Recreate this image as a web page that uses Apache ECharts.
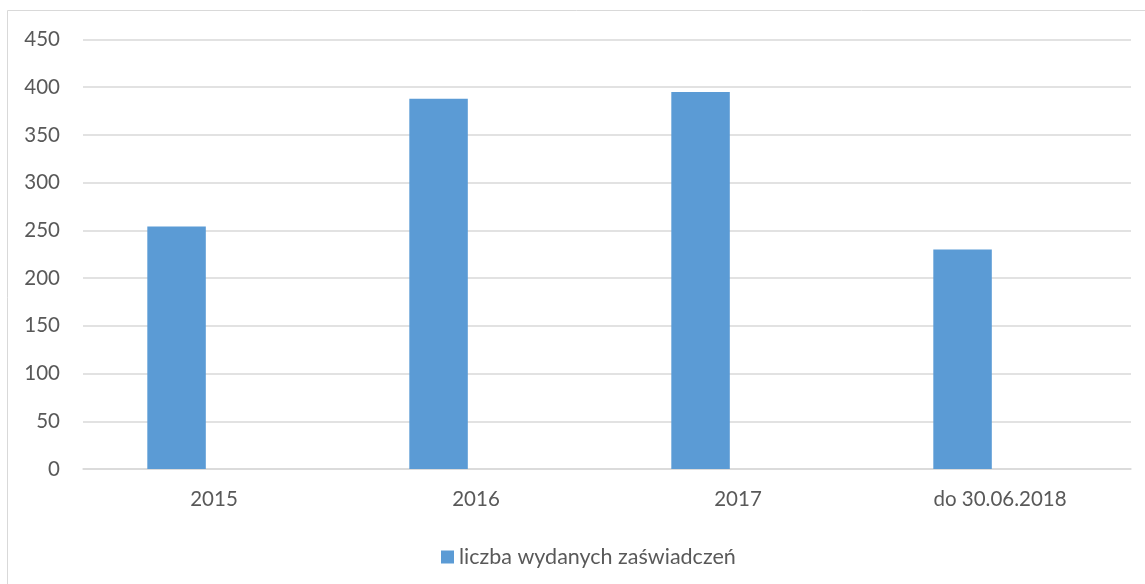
<!DOCTYPE html>
<html>
<head>
<meta charset="utf-8">
<script src="https://cdn.jsdelivr.net/npm/echarts@6/dist/echarts.min.js"></script>
<style>
  html, body { margin: 0; padding: 0; background: #fff; }
  #chart { width: 1145px; height: 584px; }
</style>
</head>
<body>
<div id="chart"></div>
<script>
// dane z wykresu
const categories = ['2015', '2016', '2017', 'do 30.06.2018'];
const wydane = [254, 388, 395, 230];
const pusta = [null, null, null, null]; // druga (pusta) seria z Excela
const seriesName = 'liczba wydanych zaświadczeń';

const chart = echarts.init(document.getElementById('chart'));

const option = {
  animation: false,
  textStyle: { fontFamily: 'Lato', color: '#595959' },
  graphic: [{
    type: 'rect',
    shape: { x: 7.5, y: 10.5, width: 1300, height: 700 },
    style: { fill: 'none', stroke: '#d9d9d9', lineWidth: 1 },
    silent: true
  }],
  grid: { left: 83, right: 14, top: 39.5, bottom: 115 },
  legend: {
    data: [seriesName],
    left: 436,
    top: 541,
    itemWidth: 13,
    itemHeight: 13,
    itemGap: 7,
    icon: 'rect',
    textStyle: { fontFamily: 'Lato', fontSize: 21.5, color: '#595959' }
  },
  xAxis: {
    type: 'category',
    data: categories,
    axisLine: { lineStyle: { color: '#d9d9d9', width: 1.5 } },
    axisTick: { show: false },
    axisLabel: { fontSize: 20.5, color: '#595959', margin: 20 }
  },
  yAxis: {
    type: 'value',
    min: 0,
    max: 450,
    interval: 50,
    axisLine: { show: false },
    axisTick: { show: false },
    splitLine: { lineStyle: { color: '#d9d9d9', width: 1.5 } },
    axisLabel: { fontSize: 20.5, color: '#595959', margin: 23 }
  },
  series: [{
    name: seriesName,
    type: 'bar',
    data: wydane,
    barWidth: 58.5,
    barGap: '28%',
    itemStyle: { color: '#5b9bd5' }
  }, {
    name: 'pusta',
    type: 'bar',
    data: pusta,
    barWidth: 58.5
  }]
};

chart.setOption(option);
</script>
</body>
</html>
